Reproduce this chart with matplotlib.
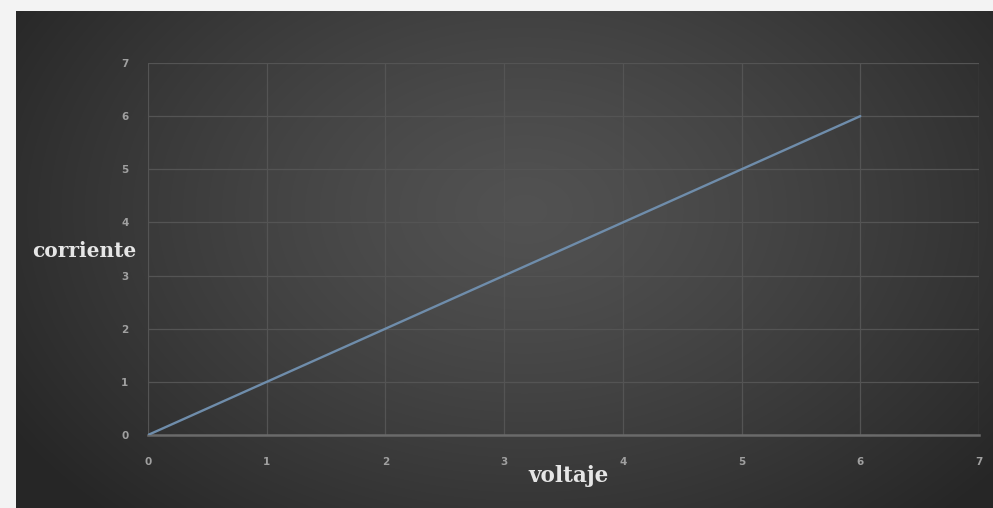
import numpy as np
import matplotlib
matplotlib.use("Agg")
import matplotlib.pyplot as plt

# data
voltaje = [0, 1, 2, 3, 4, 5, 6]
corriente = [0, 1, 2, 3, 4, 5, 6]
x_ticks = [0, 1, 2, 3, 4, 5, 6, 7]
y_ticks = [0, 1, 2, 3, 4, 5, 6, 7]
x_label = "voltaje"
y_label = "corriente"

W, H = 993, 508
fig = plt.figure(figsize=(W / 100, H / 100), dpi=100)
fig.patch.set_facecolor("#f3f3f3")

# background gradient panel
bx0, by0 = 16 / W, 0.0
bw, bh = 1 - bx0, 1 - 11 / H
bg = fig.add_axes([bx0, by0, bw, bh])
bg.set_axis_off()
ny, nx = 300, 600
yy, xx = np.mgrid[0:ny, 0:nx]
cx, cy = 0.52 * nx, 0.40 * ny
d = np.sqrt(((xx - cx) / (0.62 * nx)) ** 2 + ((yy - cy) / (0.85 * ny)) ** 2)
d = np.clip(d, 0, 1)
c_center, c_edge = 0.32, 0.15
val = c_center - (c_center - c_edge) * d ** 1.3
img = np.dstack([val, val, val])
bg.imshow(img, aspect="auto", extent=[0, 1, 0, 1], interpolation="bilinear")
bg.set_xlim(0, 1)
bg.set_ylim(0, 1)

# main axes
ax = fig.add_axes([148 / W, 1 - 435 / H, (979 - 148) / W, (435 - 63) / H])
ax.patch.set_alpha(0)
ax.plot(voltaje, corriente, color="#6f8dab", lw=1.7, solid_capstyle="round", zorder=3)
ax.set_xlim(0, 7)
ax.set_ylim(0, 7)
ax.set_xticks(x_ticks)
ax.set_yticks(y_ticks)
ax.grid(True, color="#545454", lw=0.9, zorder=0)
for s in ["top", "right", "left"]:
    ax.spines[s].set_visible(False)
ax.spines["bottom"].set_color("#6a6a6a")
ax.spines["bottom"].set_linewidth(1.8)
ax.tick_params(axis="both", length=0, labelsize=7.5, labelcolor="#a0a0a0")
ax.tick_params(axis="x", pad=16)
ax.tick_params(axis="y", pad=14)
for lab in ax.get_xticklabels() + ax.get_yticklabels():
    lab.set_fontweight("bold")

fig.text(84 / W, 1 - 251 / H, y_label, ha="center", va="center",
         family="DejaVu Serif", weight="bold", fontsize=14.5, color="#e6e6e6")
fig.text(568 / W, 1 - 476 / H, x_label, ha="center", va="center",
         family="DejaVu Serif", weight="bold", fontsize=15.5, color="#e6e6e6")

fig.savefig("out.png", dpi=100, facecolor=fig.get_facecolor())
